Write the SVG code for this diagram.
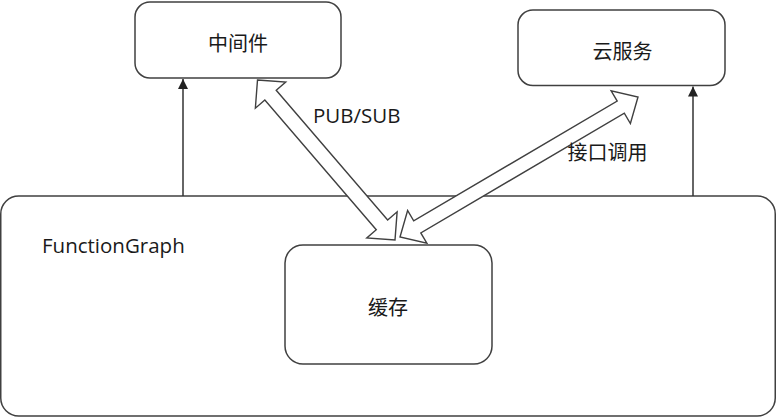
<svg xmlns="http://www.w3.org/2000/svg" width="776" height="417" viewBox="0 0 776 417">
<style>
.box{fill:#fff;stroke:#404040;stroke-width:1.5}
.conn{stroke:#333;stroke-width:1.5;fill:none}
.block{fill:#fff;stroke:#404040;stroke-width:1.4;stroke-linejoin:miter}
.cjk{font-family:"Noto Sans CJK SC","Noto Sans",sans-serif;font-size:20px;fill:#1a1a1a;text-anchor:middle}
.lat{font-family:"Open Sans","Noto Sans",sans-serif;font-size:20.5px;fill:#1a1a1a}
</style>
<defs>
<marker id="tri" viewBox="0 0 10 10" refX="10" refY="5" markerWidth="10" markerHeight="10" markerUnits="userSpaceOnUse" orient="auto">
<path d="M0,0 L10,5 L0,10 Z" fill="#222"/>
</marker>
</defs>
<rect width="776" height="417" fill="#fff"/>
<g id="functiongraph">
<rect class="box" x="0.75" y="196" width="774.5" height="220" rx="18" ry="18"/>
<text class="lat" x="42" y="253">FunctionGraph</text>
</g>
<g id="middleware">
<rect class="box" x="135" y="2" width="206" height="76" rx="15" ry="15"/>
<text class="cjk" x="238" y="50.6">中间件</text>
</g>
<g id="cloud">
<rect class="box" x="518" y="10" width="207" height="75.5" rx="15" ry="15"/>
<text class="cjk" x="622.5" y="58.6">云服务</text>
</g>
<g id="cache">
<rect class="box" x="285" y="245" width="207" height="119" rx="18" ry="18"/>
<text class="cjk" x="388" y="315">缓存</text>
</g>
<g id="connectors">
<line class="conn" x1="183" y1="196" x2="183" y2="79" marker-end="url(#tri)"/>
<line class="conn" x1="693" y1="196" x2="693" y2="86.5" marker-end="url(#tri)"/>
<polygon class="block" points="257.5,80 285.71,82.13 276.23,90.28 387.65,219.94 397.13,211.79 395,240 366.79,237.87 376.27,229.72 264.85,100.06 255.37,108.21"/>
<polygon class="block" points="638,97 630.39,123.52 624.31,113.17 420.79,232.89 426.87,243.24 400,237 407.61,210.48 413.69,220.83 617.21,101.11 611.13,90.76"/>
<text class="lat" x="313" y="123">PUB/SUB</text>
<text class="cjk" x="607.5" y="159.6">接口调用</text>
</g>
</svg>
